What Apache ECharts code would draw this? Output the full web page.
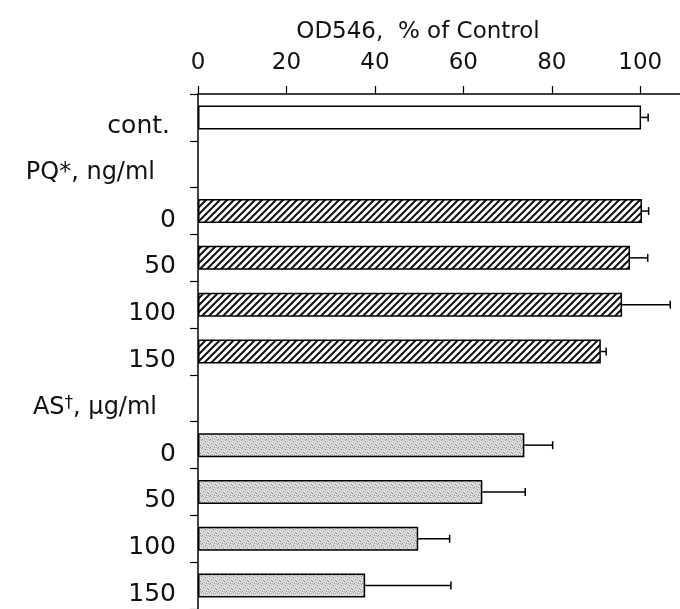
<!DOCTYPE html>
<html>
<head>
<meta charset="utf-8">
<script src="https://cdn.jsdelivr.net/npm/echarts@6/dist/echarts.min.js"></script>
<style>
  html, body { margin: 0; padding: 0; background: #fff; }
  #chart { width: 680px; height: 609px; }
</style>
</head>
<body>
<div id="chart"></div>
<script>
// rows of the category axis, top to bottom
const categories = ['cont.', 'PQ*, ng/ml', '0', '50', '100', '150', 'AS†, μg/ml', '0', '50', '100', '150'];
const xTicks = [0, 20, 40, 60, 80, 100];

// OD546, % of control (mean and error)
const controlMean = [100.2];
const controlErr = [1.6];
const pqMean = [100.4, 97.7, 95.9, 91.1];
const pqErr = [1.5, 4.0, 10.9, 1.2];
const asMean = [73.8, 64.3, 49.8, 37.8];
const asErr = [6.4, 9.7, 7.1, 19.4];

// which rows each group sits on
const controlRows = [0];
const pqRows = [2, 3, 4, 5];
const asRows = [7, 8, 9, 10];

function hatchPattern() {
  const s = 7;
  const c = document.createElement('canvas');
  c.width = s; c.height = s;
  const g = c.getContext('2d');
  g.fillStyle = '#fff';
  g.fillRect(0, 0, s, s);
  g.strokeStyle = '#111';
  g.lineWidth = 2;
  g.beginPath();
  g.moveTo(-1, s + 1); g.lineTo(s + 1, -1);
  g.moveTo(-1, 1); g.lineTo(1, -1);
  g.moveTo(s - 1, s + 1); g.lineTo(s + 1, s - 1);
  g.stroke();
  return c;
}

function stipplePattern() {
  const c = document.createElement('canvas');
  c.width = 8; c.height = 8;
  const g = c.getContext('2d');
  g.fillStyle = '#dedede';
  g.fillRect(0, 0, 8, 8);
  const dark = [[1, 0], [5, 1], [3, 3], [7, 4], [0, 5], [4, 6], [6, 7], [2, 7]];
  const mid = [[3, 0], [7, 1], [1, 2], [5, 4], [2, 5], [6, 2], [0, 7], [4, 1]];
  g.fillStyle = '#8a8a8a';
  dark.forEach(p => g.fillRect(p[0], p[1], 1, 1));
  g.fillStyle = '#b8b8b8';
  mid.forEach(p => g.fillRect(p[0], p[1], 1, 1));
  return c;
}

const fills = {
  control: '#ffffff',
  pq: { image: hatchPattern(), repeat: 'repeat' },
  as: { image: stipplePattern(), repeat: 'repeat' }
};

const barData = categories.map(() => '-');
const errData = [];
function addGroup(rows, means, errs, fill) {
  rows.forEach((r, i) => {
    barData[r] = {
      value: means[i],
      itemStyle: { color: fill, borderColor: '#000', borderWidth: 1.5 }
    };
    errData.push([means[i], r, errs[i]]);
  });
}
addGroup(controlRows, controlMean, controlErr, fills.control);
addGroup(pqRows, pqMean, pqErr, fills.pq);
addGroup(asRows, asMean, asErr, fills.as);

const FONT = 'DejaVu Sans';

const chart = echarts.init(document.getElementById('chart'));
chart.setOption({
  animation: false,
  backgroundColor: '#fff',
  title: {
    text: 'OD546,  % of Control',
    left: 418,
    top: 21,
    padding: 0,
    textAlign: 'center',
    textStyle: { fontFamily: FONT, fontSize: 23, fontWeight: 'normal', color: '#111' }
  },
  grid: { left: 198, top: 94, right: 0, height: 517 },
  xAxis: {
    type: 'value',
    position: 'top',
    min: 0,
    max: 109,
    interval: 20,
    splitLine: { show: false },
    axisLine: { show: true, lineStyle: { color: '#000', width: 1.5 } },
    axisTick: { show: true, length: 8, customValues: xTicks, lineStyle: { color: '#000', width: 1.2 } },
    axisLabel: {
      customValues: xTicks,
      margin: 19,
      fontFamily: FONT,
      fontSize: 23,
      color: '#111'
    }
  },
  yAxis: {
    type: 'category',
    inverse: true,
    data: categories,
    axisLine: { show: true, lineStyle: { color: '#000', width: 1.5 } },
    axisTick: { show: true, length: 8, interval: 0, lineStyle: { color: '#000', width: 1.2 } },
    axisLabel: {
      interval: 0,
      margin: 22,
      padding: [18, 0, 0, 0],
      color: '#111',
      formatter: function (value, idx) {
        if (idx === 0) return '{c|' + value + '}';
        if (idx === 1) return '{t|PQ*, ng/ml}';
        if (idx === 6) return '{a|AS}{sup|†}{t2|, μg/ml}';
        return '{n|' + value + '}';
      },
      rich: {
        n: { fontFamily: FONT, fontSize: 25, color: '#111' },
        c: { fontFamily: FONT, fontSize: 25, color: '#111', padding: [0, 6, 0, 0] },
        t: { fontFamily: FONT, fontSize: 24, color: '#111', padding: [0, 21, 0, 0] },
        a: { fontFamily: FONT, fontSize: 24, color: '#111' },
        sup: { fontFamily: FONT, fontSize: 17, color: '#111', verticalAlign: 'top' },
        t2: { fontFamily: FONT, fontSize: 24, color: '#111', padding: [0, 19, 0, 0] }
      }
    }
  },
  series: [
    {
      type: 'bar',
      barWidth: 24,
      data: barData
    },
    {
      type: 'custom',
      z: 5,
      data: errData,
      encode: { x: 0, y: 1 },
      renderItem: function (params, api) {
        const p0 = api.coord([api.value(0), api.value(1)]);
        const p1 = api.coord([api.value(0) + api.value(2), api.value(1)]);
        const h = 4;
        return {
          type: 'group',
          children: [
            { type: 'line', shape: { x1: p0[0], y1: p0[1], x2: p1[0], y2: p1[1] }, style: { stroke: '#000', lineWidth: 1.5 } },
            { type: 'line', shape: { x1: p1[0], y1: p1[1] - h, x2: p1[0], y2: p1[1] + h }, style: { stroke: '#000', lineWidth: 1.5 } }
          ]
        };
      }
    }
  ]
});
</script>
</body>
</html>
